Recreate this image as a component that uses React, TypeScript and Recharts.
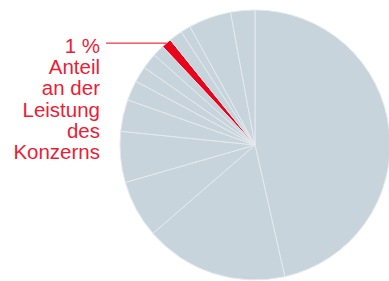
import React from "react";
import { PieChart, Pie, Cell } from "recharts";

const segments = ["s1", "s2", "s3", "s4", "s5", "s6", "s7", "s8", "s9", "highlight", "s11", "s12", "s13", "s14"];
const shares = [46.5, 17.2, 6.9, 6.1, 3.8, 2.4, 1.9, 1.9, 1.4, 1.2, 1.6, 1.2, 5.1, 2.9];
const highlightIndex = 9;
const labelLines = ["1 %", "Anteil", "an der", "Leistung", "des", "Konzerns"];

const data = segments.map((name, i) => ({ name, value: shares[i] }));

const GREY = "#c8d4dc";
const RED = "#e8041c";
const TEXT_RED = "#ee1c34";
const RAD = Math.PI / 180;

const renderLabel = (props: any) => {
  if (props.index !== highlightIndex) return null;
  const { cx, cy, midAngle, outerRadius } = props;
  const x = cx + outerRadius * Math.cos(-midAngle * RAD);
  const y = cy + outerRadius * Math.sin(-midAngle * RAD);
  const textX = 100;
  const firstBaseline = y + 9.5;
  return (
    <g>
      <line x1={106} y1={y} x2={x} y2={y} stroke={RED} strokeWidth={1} />
      {labelLines.map((t, i) => (
        <text
          key={i}
          x={textX}
          y={firstBaseline + i * 21.3}
          textAnchor="end"
          fill={TEXT_RED}
          fontSize={20.5}
          fontFamily="'Liberation Sans', Arial, sans-serif"
        >
          {t}
        </text>
      ))}
    </g>
  );
};

export default function App() {
  return (
    <div style={{ position: "absolute", left: 0, top: 0, width: 389, height: 281, background: "#fff" }}>
      <PieChart width={389} height={281} margin={{ top: 0, right: 0, bottom: 0, left: 0 }}>
        <Pie
          data={data}
          dataKey="value"
          nameKey="name"
          cx={255}
          cy={145}
          outerRadius={135}
          innerRadius={0}
          startAngle={90}
          endAngle={-270}
          stroke="#e4eaee"
          strokeWidth={1}
          label={renderLabel}
          labelLine={false}
          isAnimationActive={false}
        >
          {data.map((d, i) => (
            <Cell key={d.name} fill={i === highlightIndex ? RED : GREY} />
          ))}
        </Pie>
      </PieChart>
    </div>
  );
}
